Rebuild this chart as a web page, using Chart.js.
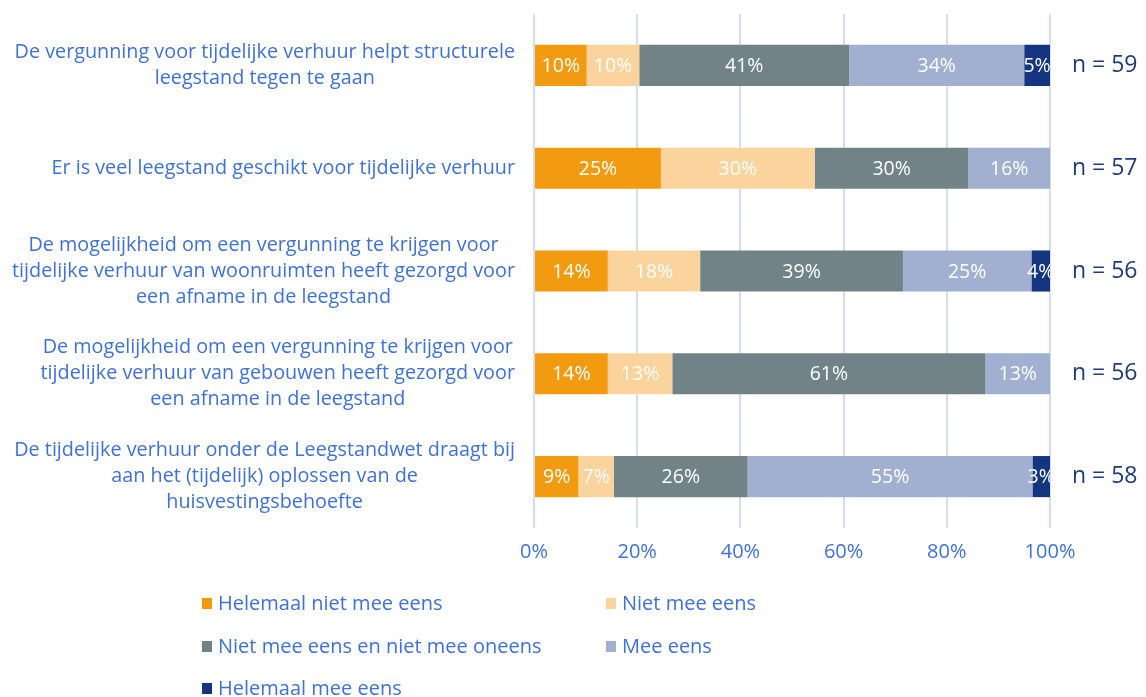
<!DOCTYPE html>
<html>
<head>
<meta charset="utf-8">
<script src="https://cdn.jsdelivr.net/npm/chart.js@4.4.0/dist/chart.umd.min.js"></script>
<style>
  html, body { margin: 0; padding: 0; background: #fff; }
  #wrap { width: 1146px; height: 697px; position: relative; }
</style>
</head>
<body>
<div id="wrap"><canvas id="myChart"></canvas></div>
<script>
  // statements (multi-line, as in the original)
  const statements = [
    ["De vergunning voor tijdelijke verhuur helpt structurele", "leegstand tegen te gaan"],
    ["Er is veel leegstand geschikt voor tijdelijke verhuur"],
    ["De mogelijkheid om een vergunning te krijgen voor", "tijdelijke verhuur van woonruimten heeft gezorgd voor", "een afname in de leegstand"],
    ["De mogelijkheid om een vergunning te krijgen voor", "tijdelijke verhuur van gebouwen heeft gezorgd voor", "een afname in de leegstand"],
    ["De tijdelijke verhuur onder de Leegstandwet draagt bij", "aan het (tijdelijk) oplossen van de", "huisvestingsbehoefte"],
  ];
  const nLabels = ["n = 59", "n = 57", "n = 56", "n = 56", "n = 58"];

  const answers = [
    "Helemaal niet mee eens",
    "Niet mee eens",
    "Niet mee eens en niet mee oneens",
    "Mee eens",
    "Helemaal mee eens",
  ];
  const colors = ["#F29B11", "#FAD49C", "#718387", "#A1B0D1", "#143681"];

  // shares in %, per statement
  const helemaalNiet = [10.2, 24.6, 14.3, 14.3, 8.6];
  const niet = [10.2, 29.8, 17.9, 12.5, 6.9];
  const neutraal = [40.7, 29.8, 39.3, 60.7, 25.9];
  const eens = [33.9, 15.8, 24.9, 12.5, 55.2];
  const helemaalEens = [5.0, 0, 3.6, 0, 3.4];
  const series = [helemaalNiet, niet, neutraal, eens, helemaalEens];

  const BLUE = "#3D72DA";
  const FONT = '"Open Sans", sans-serif';

  // white % labels in the middle of each segment
  const barLabels = {
    id: "barLabels",
    afterDatasetsDraw(chart) {
      const { ctx, chartArea } = chart;
      ctx.save();
      ctx.beginPath();
      ctx.rect(chartArea.left, chartArea.top, chartArea.width, chartArea.height);
      ctx.clip();
      ctx.font = "19.5px " + FONT;
      ctx.fillStyle = "#fff";
      ctx.textAlign = "center";
      ctx.textBaseline = "middle";
      chart.data.datasets.forEach((ds, i) => {
        chart.getDatasetMeta(i).data.forEach((bar, j) => {
          const v = ds.data[j];
          if (!v) return;
          ctx.fillText(Math.round(v) + "%", (bar.x + bar.base) / 2, bar.y + 1);
        });
      });
      ctx.restore();
    },
  };

  // statement labels: block right aligned, lines centred
  const statementLabels = {
    id: "statementLabels",
    afterDraw(chart) {
      const ctx = chart.ctx;
      const y = chart.scales.y;
      const right = chart.chartArea.left - 19;
      ctx.save();
      ctx.font = "19.8px " + FONT;
      ctx.fillStyle = BLUE;
      ctx.textAlign = "center";
      ctx.textBaseline = "middle";
      chart.data.labels.forEach((lines, i) => {
        const widest = Math.max(...lines.map((l) => ctx.measureText(l).width));
        const cx = right - widest / 2;
        const cy = y.getPixelForTick(i);
        lines.forEach((l, k) => {
          ctx.fillText(l, cx, cy + (k - (lines.length - 1) / 2) * 26);
        });
      });
      ctx.restore();
    },
  };

  // legend in two columns
  const gridLegend = {
    id: "gridLegend",
    afterDraw(chart) {
      const ctx = chart.ctx;
      const cols = [202, 606];
      const rows = [604, 647, 689];
      ctx.save();
      ctx.font = "20px " + FONT;
      ctx.textAlign = "left";
      ctx.textBaseline = "middle";
      chart.data.datasets.forEach((ds, i) => {
        const x = cols[i % 2];
        const y = rows[Math.floor(i / 2)];
        ctx.fillStyle = ds.backgroundColor;
        ctx.fillRect(x, y - 6, 10, 11);
        ctx.fillStyle = BLUE;
        ctx.fillText(ds.label, x + 16, y);
      });
      ctx.restore();
    },
  };

  const data = {
    labels: statements,
    datasets: answers.map((a, i) => ({
      label: a,
      data: series[i],
      backgroundColor: colors[i],
      borderWidth: 0,
      barPercentage: 0.4,
      categoryPercentage: 1,
    })),
  };

  const config = {
    type: "bar",
    data: data,
    options: {
      indexAxis: "y",
      responsive: true,
      maintainAspectRatio: false,
      animation: false,
      layout: { padding: { top: 14, bottom: 129, left: 0, right: 0 } },
      scales: {
        x: {
          type: "linear",
          stacked: true,
          min: 0,
          max: 100,
          grid: { color: "#D3DEF5", lineWidth: 2, drawTicks: false },
          border: { display: false },
          ticks: {
            stepSize: 20,
            padding: 12,
            color: BLUE,
            font: { family: FONT, size: 20 },
            callback: (v) => v + "%",
          },
          afterFit: (s) => { s.height = 40; },
        },
        y: {
          type: "category",
          stacked: true,
          offset: true,
          grid: { display: false },
          border: { display: false },
          ticks: { display: false },
          afterFit: (s) => { s.width = 534; },
        },
        y2: {
          type: "category",
          labels: nLabels,
          position: "right",
          offset: true,
          grid: { display: false, drawTicks: false },
          border: { display: false },
          ticks: {
            padding: 22,
            color: "#1E3B78",
            font: { family: FONT, size: 23 },
          },
          afterFit: (s) => {
            s.width = 96;
            s.paddingTop = 0;
            s.paddingBottom = 0;
          },
        },
      },
      plugins: {
        legend: { display: false },
        tooltip: { enabled: false },
      },
    },
    plugins: [barLabels, statementLabels, gridLegend],
  };

  const myChart = new Chart(document.getElementById("myChart"), config);
</script>
</body>
</html>
